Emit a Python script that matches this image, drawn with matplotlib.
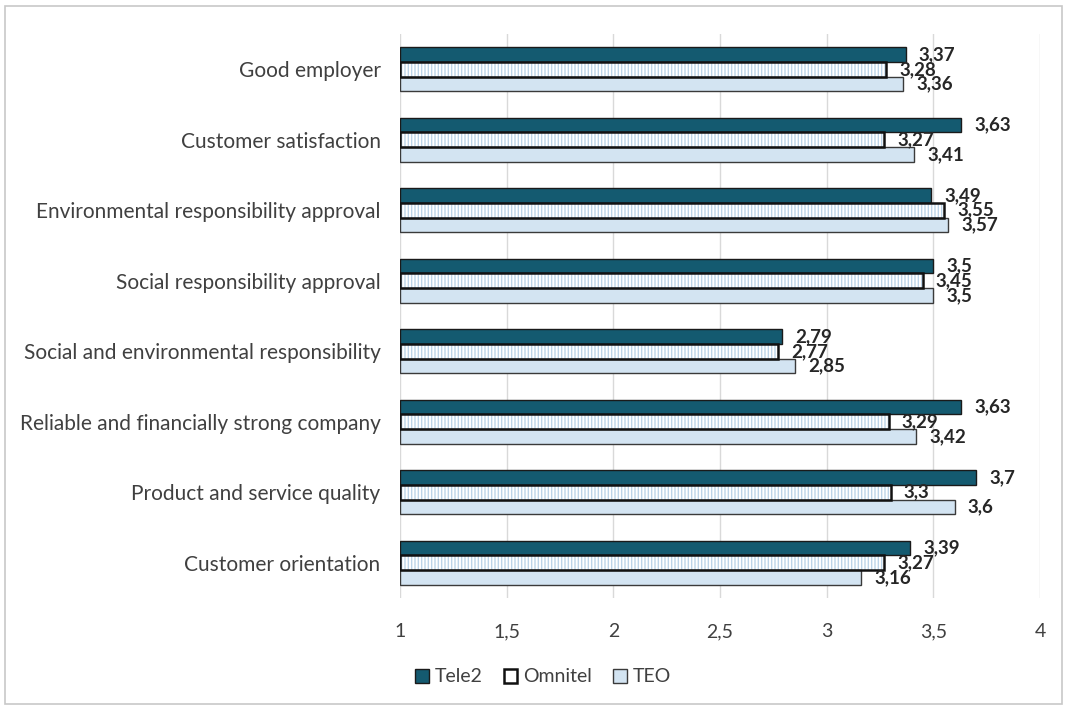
import matplotlib
matplotlib.use("Agg")
import matplotlib.pyplot as plt
from matplotlib.patches import Rectangle, Patch
import numpy as np

plt.rcParams['font.family'] = ['Lato', 'DejaVu Sans']

categories = ["Good employer", "Customer satisfaction", "Environmental responsibility approval",
              "Social responsibility approval", "Social and environmental responsibility",
              "Reliable and financially strong company", "Product and service quality",
              "Customer orientation"]
tele2 = [3.37, 3.63, 3.49, 3.5, 2.79, 3.63, 3.7, 3.39]
omnitel = [3.28, 3.27, 3.55, 3.45, 2.77, 3.29, 3.3, 3.27]
teo = [3.36, 3.41, 3.57, 3.5, 2.85, 3.42, 3.6, 3.16]
series_names = ["Tele2", "Omnitel", "TEO"]
xticks = [1, 1.5, 2, 2.5, 3, 3.5, 4]
xtick_labels = ["1", "1,5", "2", "2,5", "3", "3,5", "4"]

c_tele2 = "#145A70"
c_teo = "#D3E4F2"
c_hatch = "#BCD4E8"
txt = "#404040"

fig = plt.figure(figsize=(10.67, 7.09), dpi=100)
fig.patch.set_facecolor("white")
fig.add_artist(Rectangle((5/1067, 5/709), 1057/1067, 698/709, transform=fig.transFigure,
                         fill=False, edgecolor="#C8C8C8", linewidth=1.2))

ax = fig.add_axes([400/1067, 1 - 598/709, 640/1067, 564/709])
n = len(categories)
y = np.arange(n)
h = 0.21
base = 1

def fmt(v):
    s = ("%.2f" % v).rstrip("0").rstrip(".")
    return s.replace(".", ",")

ax.barh(y - h, np.array(tele2) - base, left=base, height=h, color=c_tele2,
        edgecolor="#1A1A1A", linewidth=1.0, zorder=3)
ax.barh(y, np.array(omnitel) - base, left=base, height=h, color="white",
        edgecolor=c_hatch, linewidth=0, hatch="|||||", zorder=3)
ax.barh(y, np.array(omnitel) - base, left=base, height=h, fill=False,
        edgecolor="#111111", linewidth=1.8, zorder=4)
ax.barh(y + h, np.array(teo) - base, left=base, height=h, color=c_teo,
        edgecolor="#3A3A3A", linewidth=1.0, zorder=3)

off = 0.062
for i in range(n):
    for vals, dy in ((tele2, -h), (omnitel, 0), (teo, h)):
        ax.text(vals[i] + off, y[i] + dy, fmt(vals[i]), va="center", ha="left",
                fontsize=13.5, fontweight="bold", color="#262626", zorder=5)

ax.set_xlim(1, 4)
ax.set_ylim(n - 0.5, -0.5)
ax.set_yticks(y)
ax.set_yticklabels(categories, fontsize=15, color=txt)
ax.set_xticks(xticks)
ax.set_xticklabels(xtick_labels, fontsize=14, color=txt)
ax.tick_params(length=0)
ax.tick_params(axis="y", pad=14)
ax.tick_params(axis="x", pad=18)
for s in ax.spines.values():
    s.set_visible(False)
ax.grid(axis="x", color="#D9D9D9", linewidth=1.0, zorder=0)
ax.set_axisbelow(True)

handles = [Patch(facecolor=c_tele2, edgecolor="#1A1A1A", linewidth=1.0),
           Patch(facecolor="white", edgecolor="#111111", linewidth=1.8),
           Patch(facecolor=c_teo, edgecolor="#3A3A3A", linewidth=1.0)]
fig.legend(handles, series_names, loc="center", bbox_to_anchor=(543/1067, 1 - 677/709),
           ncol=3, frameon=False, fontsize=14, handlelength=0.7, handleheight=0.7,
           handletextpad=0.3, columnspacing=1.1, labelcolor=txt)

fig.savefig("out.png", dpi=100)
